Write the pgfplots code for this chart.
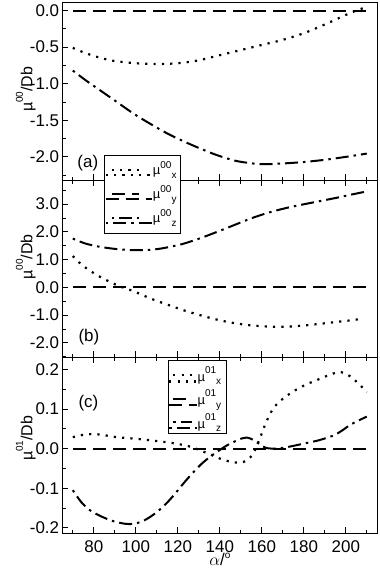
\documentclass[border=0pt]{standalone}
\usepackage{pgfplots}
\pgfplotsset{compat=1.18}
\usepackage{fontspec}
\setmainfont{Liberation Sans}
\newcommand\F[1]{\fontsize{#1}{#1}\selectfont}
\newcommand\muA[2]{{\F{13}µ}\raisebox{6.7bp}{\F{10}#1}\raisebox{-3.3bp}{\F{10}#2}}
\newcommand\muB[2]{{\F{13}µ}\raisebox{8bp}{\F{10}#1}\raisebox{-3.5bp}{\F{10}#2}}
\newcommand\ylab[1]{{\F{16}µ}\raisebox{9.5bp}{\F{10}#1}{\F{16}/Db}}
\pgfplotsset{
 dotsty/.style={line width=2.2bp, dash pattern=on 2.2bp off 6.1bp, line cap=butt},
 dashsty/.style={line width=2bp, dash pattern=on 13bp off 7bp},
 dashdotsty/.style={line width=2bp, dash pattern=on 2.5bp off 5bp on 13bp off 5bp},
 panel/.style={
  scale only axis, width=315bp, xmin=65, xmax=215,
  axis line style={line width=1bp},
  tick style={black, line width=0.8bp},
  major tick length=6bp, minor tick length=3.5bp,
  tick align=inside,
  xtick={80,100,...,200}, minor xtick={70,90,...,210},
  ytick pos=left,
  yticklabel style={font=\F{17}, inner sep=0pt, xshift=-3bp, anchor=east},
  xticklabel style={font=\F{17}, inner sep=0pt, yshift=-6.7bp, anchor=north},
  every axis y label/.style={rotate=90, anchor=base},
  every axis x label/.style={at={(axis description cs:0.5,0)}, anchor=base, yshift=-31.7bp},
  legend cell align=left,
 },
}
\begin{document}
\begin{tikzpicture}
\path[use as bounding box] (-62.3bp,-41.7bp) rectangle (317.7bp,533.3bp);
% ---------------- panel (c)
\begin{axis}[panel, at={(0bp,0bp)}, anchor=south west, height=176bp,
  ymin=-0.214, ymax=0.231,
  ytick={-0.2,-0.1,0,0.1,0.2}, yticklabels={-0.2,-0.1,0.0,0.1,0.2},
  minor ytick={-0.15,-0.05,0.05,0.15},
  xtick pos=both, xticklabels={80,100,120,140,160,180,200},
  ylabel={\ylab{01}}, ylabel style={at={(axis description cs:-0.0952,0.539)}},
  xlabel={\F{17}$\alpha$/\raisebox{7bp}{\F{10}o}},
  legend style={at={(0.3346,0.9847)}, anchor=north west, draw=black, line width=1bp, fill=white,
    inner xsep=0pt, inner ysep=1.5bp, column sep=0pt, row sep=0pt,
    nodes={inner sep=0pt, anchor=base west, text height=19.5bp, text depth=4bp, text width=29.3bp, align=left}},
  legend image code/.code={\path (0bp,0bp) -- (27.3bp,0bp); \draw[#1] (4bp,6.4bp) -- (22.3bp,6.4bp);},
]
\addplot[dotsty, smooth, tension=0.5] coordinates {
 (70,0.029) (75,0.035) (80,0.037) (85,0.034) (91,0.029) (100,0.025) (107,0.021) (115,0.016) (120,0.012)
 (126,0.005) (131,-0.005) (136,-0.016) (141,-0.027) (146,-0.034) (150,-0.035) (153,-0.029)
 (156,-0.012) (159,0.025) (162,0.066) (165,0.098) (168,0.117) (172,0.134) (176,0.148) (181,0.162)
 (186,0.173) (191,0.184) (196,0.193) (199,0.192) (202,0.183) (206,0.165) (210,0.143)};
\addlegendentry{\muB{01}{x}}
\addplot[dashsty] coordinates {(70,0) (210,0)};
\addlegendentry{\muB{01}{y}}
\addplot[dashdotsty, smooth, tension=0.5] coordinates {
 (70,-0.105) (74,-0.135) (78,-0.155) (83,-0.170) (89,-0.183) (95,-0.190) (99,-0.190) (103,-0.184)
 (107,-0.172) (111,-0.156) (115,-0.136) (119,-0.112) (123,-0.086) (127,-0.062) (131,-0.040)
 (135,-0.022) (139,-0.007) (143,0.007) (147,0.018) (150,0.025) (153,0.028) (156,0.022) (159,0.011)
 (162,0.002) (166,0.000) (170,0.002) (175,0.007) (181,0.014) (187,0.021) (194,0.033) (198,0.045)
 (202,0.060) (206,0.071) (210,0.081)};
\addlegendentry{\muB{01}{z}}
\node[anchor=west, inner sep=0pt, font=\F{17}] at (rel axis cs:0.051,0.739) {(c)};
\end{axis}
% ---------------- panel (b)
\begin{axis}[panel, at={(0bp,176bp)}, anchor=south west, height=177bp,
  ymin=-2.52, ymax=3.86,
  ytick={-2,-1,0,1,2,3}, yticklabels={-2.0,-1.0,0.0,1.0,2.0,3.0},
  minor ytick={-2.5,-1.5,-0.5,0.5,1.5,2.5,3.5},
  xtick pos=both, xticklabels=\empty,
  ylabel={\ylab{00}}, ylabel style={at={(axis description cs:-0.0952,0.567)}},
]
\addplot[dotsty, smooth, tension=0.5] coordinates {
 (70,1.13) (73,0.90) (77,0.66) (83,0.38) (91,0.08) (99,-0.14) (107,-0.40) (115,-0.62) (123,-0.83)
 (131,-1.01) (139,-1.17) (147,-1.29) (155,-1.37) (163,-1.41) (171,-1.42) (179,-1.38) (187,-1.32)
 (195,-1.25) (201,-1.20) (207,-1.14)};
\addplot[dashsty] coordinates {(70,0) (210,0)};
\addplot[dashdotsty, smooth, tension=0.5] coordinates {
 (70,1.76) (76,1.58) (83,1.46) (91,1.38) (99,1.34) (106,1.35) (112,1.40) (118,1.49) (123,1.58)
 (131,1.78) (139,2.01) (147,2.25) (155,2.49) (163,2.69) (171,2.85) (179,2.98) (187,3.10)
 (195,3.22) (203,3.35) (210,3.46)};
\node[anchor=west, inner sep=0pt, font=\F{17}] at (rel axis cs:0.051,0.116) {(b)};
\end{axis}
% ---------------- panel (a)
\begin{axis}[panel, at={(0bp,353bp)}, anchor=south west, height=178bp,
  ymin=-2.32, ymax=0.113,
  ytick={-2,-1.5,-1,-0.5,0}, yticklabels={-2.0,-1.5,-1.0,-0.5,0.0},
  minor ytick={-2.25,-1.75,-1.25,-0.75,-0.25},
  xtick pos=bottom, xticklabels=\empty,
  ylabel={\ylab{00}}, ylabel style={at={(axis description cs:-0.0952,0.511)}},
  legend style={at={(0.1333,0.1404)}, anchor=north west, draw=black, line width=1bp, fill=white,
    inner xsep=0pt, inner ysep=2.85bp, column sep=0pt, row sep=0pt,
    nodes={inner sep=0pt, anchor=base west, text height=16.15bp, text depth=7.85bp, text width=28bp, align=left}},
  legend image code/.code={\path (0bp,0bp) -- (46bp,0bp); \draw[#1] (6bp,5bp) -- (33bp,5bp);},
]
\addplot[dotsty, smooth, tension=0.5] coordinates {
 (70,-0.51) (75,-0.57) (80,-0.62) (85,-0.66) (90,-0.69) (100,-0.72) (110,-0.73) (120,-0.72)
 (130,-0.68) (140,-0.61) (150,-0.54) (160,-0.47) (170,-0.40) (180,-0.31) (190,-0.19) (200,-0.06)
 (205,0.00) (210,0.05)};
\addlegendentry{\muA{00}{x}}
\addplot[dashsty] coordinates {(70,0) (210,0)};
\addlegendentry{\muA{00}{y}}
\addplot[dashdotsty, smooth, tension=0.5] coordinates {
 (70,-0.82) (76,-0.95) (83,-1.09) (91,-1.25) (99,-1.41) (107,-1.55) (115,-1.68) (123,-1.79)
 (131,-1.89) (139,-1.98) (147,-2.05) (153,-2.08) (160,-2.10) (170,-2.09) (180,-2.07) (190,-2.04)
 (200,-2.00) (210,-1.955)};
\addlegendentry{\muA{00}{z}}
\node[anchor=west, inner sep=0pt, font=\F{17}] at (rel axis cs:0.0476,0.098) {(a)};
\end{axis}
\end{tikzpicture}
\end{document}
